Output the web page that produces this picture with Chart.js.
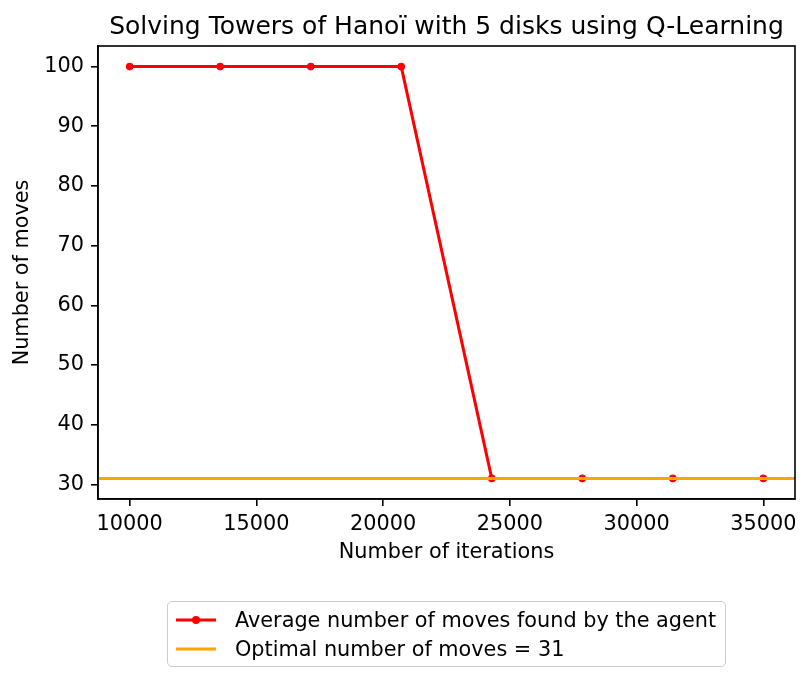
<!DOCTYPE html>
<html>
<head>
<meta charset="utf-8">
<script src="https://cdn.jsdelivr.net/npm/chart.js@4/dist/chart.umd.min.js"></script>
<style>
  html, body { margin: 0; padding: 0; background: #fff; }
  #wrap { position: relative; width: 811px; height: 683px; font-family: "DejaVu Sans", sans-serif; color: #000; }
  #c { position: absolute; left: 0; top: 0; }
  #title { position: absolute; left: 98px; width: 697px; top: 13px; text-align: center; font-size: 25px; line-height: 25px; white-space: nowrap; }
  #legend { position: absolute; left: 167px; top: 601px; width: 559px; height: 66px; box-sizing: border-box; border: 1.6px solid #cccccc; border-radius: 5px; background: rgba(255,255,255,0.8); }
  .row { position: absolute; left: 0; height: 24px; font-size: 20.8px; line-height: 24px; white-space: nowrap; }
  .row svg { position: absolute; left: 8px; top: 0; }
  .row span { position: absolute; left: 67px; top: 0; }
</style>
</head>
<body>
<div id="wrap">
  <canvas id="c" width="811" height="683"></canvas>
  <div id="title">Solving Towers of Hanoï with 5 disks using Q-Learning</div>
  <div id="legend">
    <div class="row" style="top:6px">
      <svg width="42" height="24"><line x1="0" y1="12" x2="40" y2="12" stroke="#ff0000" stroke-width="3"/><circle cx="20" cy="12" r="4" fill="#ff0000"/></svg>
      <span id="lab0"></span>
    </div>
    <div class="row" style="top:35px">
      <svg width="42" height="24"><line x1="0" y1="12" x2="40" y2="12" stroke="#ffa500" stroke-width="3"/></svg>
      <span id="lab1"></span>
    </div>
  </div>
</div>
<script>
// ---- data ----
const iterations = [10000, 13571, 17143, 20714, 24286, 27857, 31429, 35000];
const avgMoves = [100, 100, 100, 100, 31, 31, 31, 31];
const optimalMoves = 31;
const xTicks = [10000, 15000, 20000, 25000, 30000, 35000];
const yTicks = [30, 40, 50, 60, 70, 80, 90, 100];
const xRange = [8750, 36250];
const yRange = [27.55, 103.45];
const seriesLabels = ['Average number of moves found by the agent', 'Optimal number of moves = 31'];
const chartTitle = 'Solving Towers of Hanoï with 5 disks using Q-Learning';
const xTitle = 'Number of iterations';
const yTitle = 'Number of moves';

document.getElementById('title').textContent = chartTitle;
document.getElementById('lab0').textContent = seriesLabels[0];
document.getElementById('lab1').textContent = seriesLabels[1];

const FONT = "'DejaVu Sans', sans-serif";
const FS = 20.8;

const frame = {
  id: 'frame',
  afterDatasetsDraw(chart) {
    const a = chart.chartArea, ctx = chart.ctx;
    ctx.save();
    ctx.strokeStyle = '#000';
    ctx.lineWidth = 1.6;
    ctx.strokeRect(a.left, a.top, a.right - a.left, a.bottom - a.top);
    ctx.restore();
  }
};

new Chart(document.getElementById('c'), {
  type: 'line',
  data: {
    datasets: [
      {
        label: seriesLabels[0],
        data: iterations.map((x, i) => ({ x, y: avgMoves[i] })),
        borderColor: '#ff0000',
        backgroundColor: '#ff0000',
        borderWidth: 3,
        pointRadius: 3.2,
        pointBorderWidth: 1.2,
        pointBackgroundColor: '#ff0000',
        pointBorderColor: '#ff0000',
        tension: 0,
        order: 2
      },
      {
        label: seriesLabels[1],
        data: xRange.map(x => ({ x, y: optimalMoves })),
        borderColor: '#ffa500',
        backgroundColor: '#ffa500',
        borderWidth: 3,
        pointRadius: 0,
        tension: 0,
        order: 1
      }
    ]
  },
  options: {
    responsive: false,
    animation: false,
    devicePixelRatio: 1,
    layout: { padding: { left: 0, right: 16, top: 46, bottom: 104 } },
    plugins: { legend: { display: false }, title: { display: false }, tooltip: { enabled: false } },
    scales: {
      x: {
        type: 'linear',
        min: xRange[0], max: xRange[1],
        afterBuildTicks: s => { s.ticks = xTicks.map(v => ({ value: v })); },
        afterFit: s => { s.height = 80; },
        grid: { display: true, drawOnChartArea: false, drawTicks: true, tickLength: 7, color: '#000', lineWidth: 1.6 },
        border: { display: true, color: '#000', width: 1.6 },
        ticks: { color: '#000', padding: 6, maxRotation: 0, font: { family: FONT, size: FS }, callback: v => String(v) },
        title: { display: true, text: xTitle, color: '#000', font: { family: FONT, size: FS }, padding: { top: 2, bottom: 14 } }
      },
      y: {
        type: 'linear',
        min: yRange[0], max: yRange[1],
        afterBuildTicks: s => { s.ticks = yTicks.map(v => ({ value: v })); },
        afterFit: s => { s.width = 98; },
        grid: { display: true, drawOnChartArea: false, drawTicks: true, tickLength: 7, color: '#000', lineWidth: 1.6 },
        border: { display: true, color: '#000', width: 1.6 },
        ticks: { color: '#000', padding: 7, font: { family: FONT, size: FS }, callback: v => String(v) },
        title: { display: true, text: yTitle, color: '#000', font: { family: FONT, size: FS }, padding: 10 }
      }
    }
  },
  plugins: [frame]
});
</script>
</body>
</html>
